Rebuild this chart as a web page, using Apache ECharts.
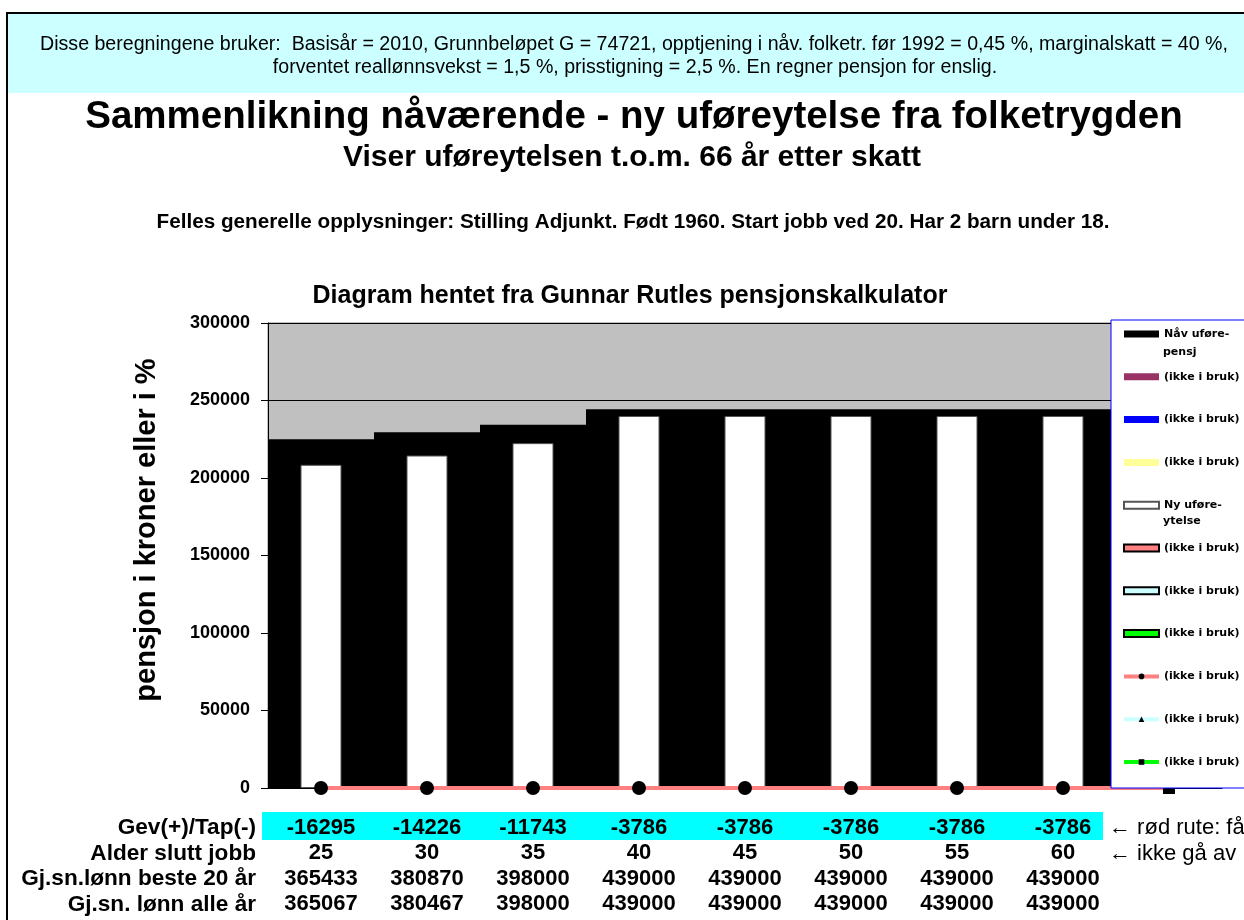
<!DOCTYPE html>
<html>
<head>
<meta charset="utf-8">
<script src="https://cdn.jsdelivr.net/npm/echarts@6/dist/echarts.min.js"></script>
<style>
    html, body { margin: 0; padding: 0; background: #fff; }
    #chart { width: 1244px; height: 920px; }
</style>
</head>
<body>
<div id="chart"></div>
<script>
// data
var categories = ['25', '30', '35', '40', '45', '50', '55', '60', ''];
var navUforepensj = [225000, 229500, 234300, 244300, 244300, 244300, 244300, 244300, null];
var nyUforeytelse = [208500, 214500, 222500, 240000, 240000, 240000, 240000, 240000, null];
var rodLinje = [0, 0, 0, 0, 0, 0, 0, 0, 0];
var gronnLinje = [null, null, null, null, null, null, null, null, 0];

var gevTap = ['-16295', '-14226', '-11743', '-3786', '-3786', '-3786', '-3786', '-3786'];
var alderSluttJobb = ['25', '30', '35', '40', '45', '50', '55', '60'];
var lonnBeste20 = ['365433', '380870', '398000', '439000', '439000', '439000', '439000', '439000'];
var lonnAlleAar = ['365067', '380467', '398000', '439000', '439000', '439000', '439000', '439000'];

var radTekster = ['Gev(+)/Tap(-)', 'Alder slutt jobb', 'Gj.sn.lønn beste 20 år', 'Gj.sn. lønn alle år'];

// legend: first line in the legend itself, second line drawn as graphic text
var legendTekster = {
    nav: 'Nåv uføre-',
    ikke1: '(ikke i bruk)',
    ikke2: '(ikke i bruk)',
    ikke3: '(ikke i bruk)',
    ny: 'Ny uføre-',
    ikke4: '(ikke i bruk)',
    ikke5: '(ikke i bruk)',
    ikke6: '(ikke i bruk)',
    ikke7: '(ikke i bruk)',
    ikke8: '(ikke i bruk)',
    ikke9: '(ikke i bruk)'
};

var ARIAL = "'Liberation Sans', Arial, sans-serif";
var LEGENDFONT = "bold 11px 'DejaVu Sans', sans-serif";

var chart = echarts.init(document.getElementById('chart'));

function tekst(x, y, str, font, align) {
    return {
        type: 'text', x: x, y: y, z: 10,
        style: { text: str, font: font, fill: '#000', align: align || 'center', verticalAlign: 'middle' }
    };
}

var graphics = [
    // ramme og banner
    { type: 'rect', z: -10, shape: { x: 8, y: 14, width: 1236, height: 79 }, style: { fill: '#ccffff' } },
    { type: 'rect', z: -5, shape: { x: 6, y: 12, width: 1238, height: 2 }, style: { fill: '#000' } },
    { type: 'rect', z: -5, shape: { x: 6, y: 12, width: 2, height: 908 }, style: { fill: '#000' } },
    tekst(634, 45, 'Disse beregningene bruker:  Basisår = 2010, Grunnbeløpet G = 74721, opptjening i nåv. folketr. før 1992 = 0,45 %, marginalskatt = 40 %,', '19.6px ' + ARIAL),
    tekst(635, 68, 'forventet reallønnsvekst = 1,5 %, prisstigning = 2,5 %. En regner pensjon for enslig.', '19.6px ' + ARIAL),
    tekst(634, 117, 'Sammenlikning nåværende - ny uføreytelse fra folketrygden', 'bold 38.5px ' + ARIAL),
    tekst(632, 158, 'Viser uføreytelsen t.o.m. 66 år etter skatt', 'bold 30px ' + ARIAL),
    tekst(633, 222, 'Felles generelle opplysninger: Stilling Adjunkt. Født 1960. Start jobb ved 20. Har 2 barn under 18.', 'bold 20.7px ' + ARIAL),
    tekst(630, 296, 'Diagram hentet fra Gunnar Rutles pensjonskalkulator', 'bold 25px ' + ARIAL),
    {
        type: 'text', x: 147, y: 530, rotation: Math.PI / 2, z: 10,
        style: { text: 'pensjon i kroner eller i %', font: 'bold 29px ' + ARIAL, fill: '#000', align: 'center', verticalAlign: 'middle' }
    },
    // andre linje i to legend-tekster
    tekst(1163, 352, 'pensj', LEGENDFONT, 'left'),
    tekst(1163, 521, 'ytelse', LEGENDFONT, 'left'),
    // tabell under diagrammet
    { type: 'rect', z: -10, shape: { x: 262, y: 812, width: 841, height: 28 }, style: { fill: '#00ffff' } },
    tekst(1109, 828, '← rød rute: får', '22px ' + ARIAL, 'left'),
    tekst(1109, 854, '← ikke gå av', '22px ' + ARIAL, 'left')
];
radTekster.forEach(function (t, i) {
    graphics.push(tekst(256, 828 + i * 25.5, t, 'bold 22.6px ' + ARIAL, 'right'));
});

var option = {
    animation: false,
    backgroundColor: '#fff',
    textStyle: { fontFamily: ARIAL },
    grid: {
        left: 268, right: 22, top: 323, bottom: 132,
        show: true, backgroundColor: '#c0c0c0', borderColor: '#808080', borderWidth: 1
    },
    legend: {
        orient: 'vertical',
        left: 1111,
        top: 320,
        padding: [5, 14, 17, 11],
        itemGap: 24.8,
        itemWidth: 35,
        itemHeight: 7,
        backgroundColor: '#fff',
        borderColor: '#0000ff',
        borderWidth: 1,
        selectedMode: false,
        lineStyle: { width: 4 },
        textStyle: { fontFamily: "'DejaVu Sans', sans-serif", fontWeight: 'bold', fontSize: 11, color: '#000', lineHeight: 18 },
        formatter: function (name) { return legendTekster[name]; },
        data: [
            { name: 'nav', icon: 'rect' },
            { name: 'ikke1', icon: 'rect' },
            { name: 'ikke2', icon: 'rect' },
            { name: 'ikke3', icon: 'rect' },
            { name: 'ny', icon: 'rect' },
            { name: 'ikke4', icon: 'rect' },
            { name: 'ikke5', icon: 'rect' },
            { name: 'ikke6', icon: 'rect' },
            { name: 'ikke7' },
            { name: 'ikke8' },
            { name: 'ikke9' }
        ]
    },
    xAxis: [
        {
            type: 'category',
            data: categories,
            axisLine: { lineStyle: { color: '#000', width: 1 } },
            axisTick: { show: false },
            axisLabel: {
                interval: 0,
                margin: 27,
                formatter: function (value, index) {
                    if (index >= gevTap.length) return '';
                    return '{r|' + gevTap[index] + '}\n{r|' + alderSluttJobb[index] + '}\n{r|' +
                        lonnBeste20[index] + '}\n{r|' + lonnAlleAar[index] + '}';
                },
                rich: {
                    r: { fontFamily: ARIAL, fontWeight: 'bold', fontSize: 22, lineHeight: 25.5, color: '#000' }
                }
            },
            splitLine: { show: false }
        },
        { type: 'category', data: categories, show: false },
        { type: 'category', data: categories, show: false }
    ],
    yAxis: {
        type: 'value',
        min: 0,
        max: 300000,
        interval: 50000,
        axisLine: { show: true, lineStyle: { color: '#000', width: 1 } },
        axisTick: { show: true, length: 7, lineStyle: { color: '#000' } },
        axisLabel: {
            margin: 18, fontFamily: ARIAL, fontWeight: 'bold', fontSize: 18, color: '#000',
            formatter: function (v) { return String(v); }
        },
        splitLine: { show: true, lineStyle: { color: '#000', width: 1 } }
    },
    graphic: graphics,
    series: [
        { name: 'nav', type: 'bar', xAxisIndex: 0, data: navUforepensj, barCategoryGap: '0%', itemStyle: { color: '#000' } },
        { name: 'ikke1', type: 'bar', xAxisIndex: 2, data: [], itemStyle: { color: '#993366' } },
        { name: 'ikke2', type: 'bar', xAxisIndex: 2, data: [], itemStyle: { color: '#0000ff' } },
        { name: 'ikke3', type: 'bar', xAxisIndex: 2, data: [], itemStyle: { color: '#ffff99' } },
        { name: 'ny', type: 'bar', xAxisIndex: 1, data: nyUforeytelse, barWidth: 41, itemStyle: { color: '#fff', borderColor: '#555', borderWidth: 1 } },
        { name: 'ikke4', type: 'bar', xAxisIndex: 2, data: [], itemStyle: { color: '#ff8080', borderColor: '#000', borderWidth: 1.5 } },
        { name: 'ikke5', type: 'bar', xAxisIndex: 2, data: [], itemStyle: { color: '#ccffff', borderColor: '#000', borderWidth: 1.5 } },
        { name: 'ikke6', type: 'bar', xAxisIndex: 2, data: [], itemStyle: { color: '#00ff00', borderColor: '#000', borderWidth: 1.5 } },
        {
            name: 'ikke7', type: 'line', xAxisIndex: 0, z: 3, clip: false,
            data: rodLinje.map(function (v, i) { return i < gevTap.length ? v : { value: v, symbol: 'none' }; }),
            symbol: 'circle', symbolSize: 14,
            lineStyle: { color: '#ff8080', width: 4 },
            itemStyle: { color: '#000' }
        },
        {
            name: 'ikke8', type: 'line', xAxisIndex: 0, z: 3, clip: false, data: [],
            symbol: 'triangle', symbolSize: 10,
            lineStyle: { color: '#ccffff', width: 4 },
            itemStyle: { color: '#000' }
        },
        {
            name: 'ikke9', type: 'line', xAxisIndex: 0, z: 3, clip: false, data: gronnLinje,
            symbol: 'rect', symbolSize: 12,
            lineStyle: { color: '#00ff00', width: 4 },
            itemStyle: { color: '#000' }
        }
    ]
};

chart.setOption(option);
</script>
</body>
</html>
